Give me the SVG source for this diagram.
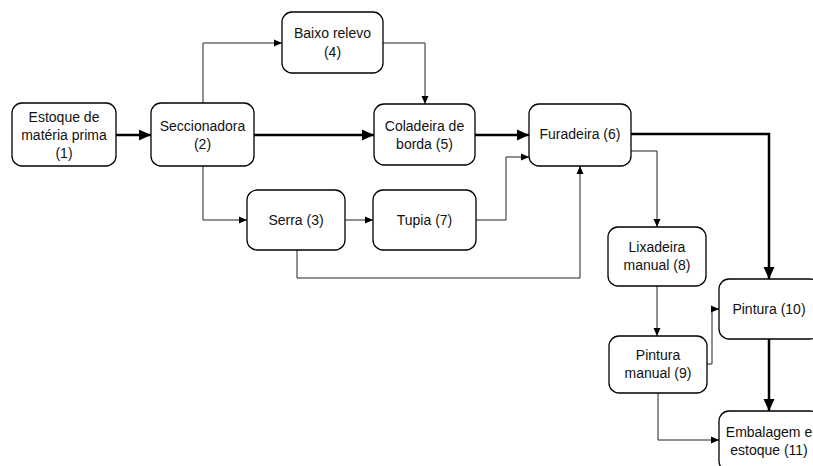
<svg xmlns="http://www.w3.org/2000/svg" width="813" height="466" viewBox="0 0 813 466">
<style>
.box{fill:#fff;stroke:#000;stroke-width:1.3}
.t{font-family:"Liberation Sans",Arial,sans-serif;font-size:14px;fill:#111;text-anchor:middle}
.thin{fill:none;stroke:#222;stroke-width:1}
.thick{fill:none;stroke:#000;stroke-width:2.5}
</style>
<defs>
<marker id="as" markerUnits="userSpaceOnUse" markerWidth="8" markerHeight="8" viewBox="0 0 8 8" refX="8" refY="4" orient="auto"><path d="M0,0.5 L8,4 L0,7.5 Z" fill="#000"/></marker>
<marker id="al" markerUnits="userSpaceOnUse" markerWidth="12" markerHeight="12" viewBox="0 0 12 12" refX="12" refY="6" orient="auto"><path d="M0,0.5 L12,6 L0,11.5 Z" fill="#000"/></marker>
</defs>
<rect width="813" height="466" fill="#fff"/>
<g id="connectors">
<path class="thick" d="M116,135 L151,135" marker-end="url(#al)"/>
<path class="thin" d="M203,103 L203,43 L282,43" marker-end="url(#as)"/>
<path class="thick" d="M254,135 L374,135" marker-end="url(#al)"/>
<path class="thin" d="M203,166 L203,220 L247,220" marker-end="url(#as)"/>
<path class="thin" d="M383,43 L425,43 L425,104" marker-end="url(#as)"/>
<path class="thick" d="M475,135 L529,135" marker-end="url(#al)"/>
<path class="thin" d="M345,220 L373,220" marker-end="url(#as)"/>
<path class="thin" d="M476,220 L506,220 L506,157 L529,157" marker-end="url(#as)"/>
<path class="thin" d="M297,250 L297,278 L580,278 L580,166" marker-end="url(#as)"/>
<path class="thick" d="M631,134 L769,134 L769,279" marker-end="url(#al)"/>
<path class="thin" d="M631,151 L657,151 L657,227" marker-end="url(#as)"/>
<path class="thin" d="M657,286 L657,336" marker-end="url(#as)"/>
<path class="thin" d="M707,364 L712,364 L712,309 L719,309" marker-end="url(#as)"/>
<path class="thick" d="M769,339 L769,411" marker-end="url(#al)"/>
<path class="thin" d="M658,393 L658,440 L719,440" marker-end="url(#as)"/>
</g>
<g id="n1"><rect class="box" x="12" y="103" width="104" height="63" rx="10"/><text class="t" x="64" y="122">Estoque de</text><text class="t" x="64" y="140">matéria prima</text><text class="t" x="64" y="158">(1)</text></g>
<g id="n2"><rect class="box" x="151" y="103" width="103" height="63" rx="10"/><text class="t" x="202.5" y="131">Seccionadora</text><text class="t" x="202.5" y="149">(2)</text></g>
<g id="n4"><rect class="box" x="282" y="12" width="101" height="61" rx="10"/><text class="t" x="332.5" y="38">Baixo relevo</text><text class="t" x="332.5" y="57">(4)</text></g>
<g id="n5"><rect class="box" x="374" y="104" width="101" height="61" rx="10"/><text class="t" x="424.5" y="131">Coladeira de</text><text class="t" x="424.5" y="149">borda (5)</text></g>
<g id="n6"><rect class="box" x="529" y="104" width="102" height="62" rx="10"/><text class="t" x="580" y="139">Furadeira (6)</text></g>
<g id="n3"><rect class="box" x="247" y="190" width="98" height="60" rx="10"/><text class="t" x="296" y="225">Serra (3)</text></g>
<g id="n7"><rect class="box" x="373" y="190" width="103" height="60" rx="10"/><text class="t" x="424.5" y="225">Tupia (7)</text></g>
<g id="n8"><rect class="box" x="608" y="227" width="98" height="59" rx="10"/><text class="t" x="657" y="252">Lixadeira</text><text class="t" x="657" y="270">manual (8)</text></g>
<g id="n9"><rect class="box" x="609" y="336" width="98" height="57" rx="10"/><text class="t" x="658" y="360">Pintura</text><text class="t" x="658" y="378">manual (9)</text></g>
<g id="n10"><rect class="box" x="719" y="279" width="101" height="60" rx="10"/><text class="t" x="769" y="314">Pintura (10)</text></g>
<g id="n11"><rect class="box" x="719" y="411" width="101" height="60" rx="10"/><text class="t" x="769" y="437">Embalagem e</text><text class="t" x="769" y="455">estoque (11)</text></g>
</svg>
